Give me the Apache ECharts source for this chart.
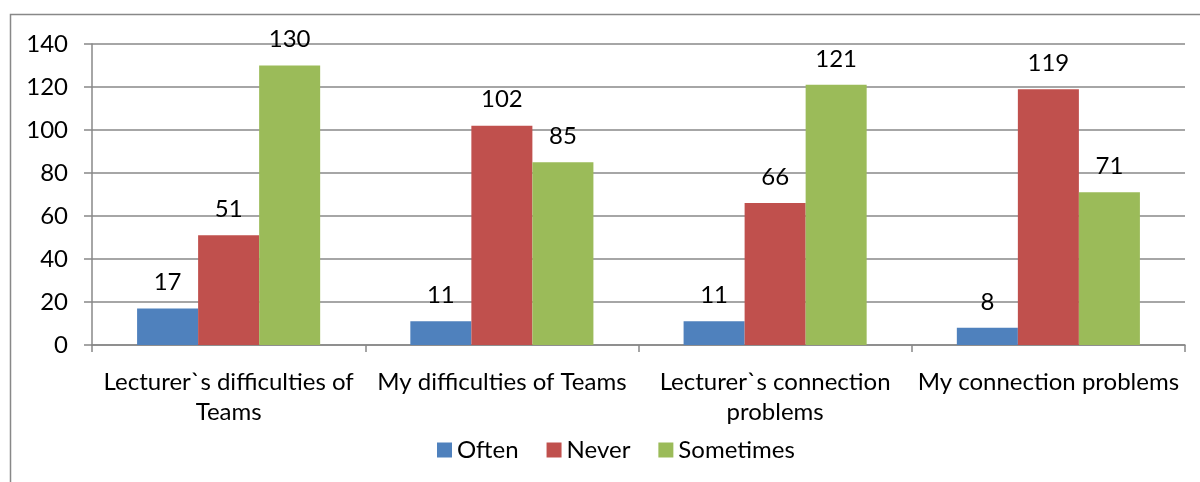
<!DOCTYPE html>
<html><head><meta charset="utf-8">
<script src="https://cdn.jsdelivr.net/npm/echarts@6/dist/echarts.min.js"></script>
<style>html,body{margin:0;padding:0;background:#fff}#c{width:1200px;height:482px}</style>
</head><body><div id="c"></div>
<script>
const categories = ["Lecturer`s difficulties of\nTeams", "My difficulties of Teams", "Lecturer`s connection\nproblems", "My connection problems"];
const often = [17, 11, 11, 8];
const never = [51, 102, 66, 119];
const sometimes = [130, 85, 121, 71];
const yTicks = {min: 0, max: 140, interval: 20};

const FONT = 'Lato';
const FS = 24;
const chart = echarts.init(document.getElementById('c'));
const lbl = {show: true, position: 'top', distance: 14, color: '#000', fontFamily: FONT, fontSize: FS};
function ser(name, data, color) {
  return {name, type: 'bar', data, barGap: '0%', barCategoryGap: '33%',
    itemStyle: {color}, label: lbl};
}
chart.setOption({
  animation: false,
  textStyle: {fontFamily: FONT},
  graphic: [{type: 'rect', shape: {x: 10.5, y: 14.5, width: 1300, height: 600},
    style: {fill: 'none', stroke: '#888', lineWidth: 1.5}, silent: true}],
  grid: {left: 92, right: 15, top: 44, bottom: 137, containLabel: false},
  legend: {bottom: 15, left: 432, itemWidth: 15, itemHeight: 15, itemGap: 28, itemTextGap: 7,
    icon: 'rect', textStyle: {fontFamily: FONT, fontSize: FS, color: '#000'},
    data: ['Often', 'Never', 'Sometimes']},
  xAxis: {type: 'category', data: categories,
    axisLine: {lineStyle: {color: '#888', width: 1.5}},
    axisTick: {show: true, length: 7, lineStyle: {color: '#888', width: 1.5}},
    axisLabel: {color: '#000', fontFamily: FONT, fontSize: FS, lineHeight: 30, margin: 22, interval: 0}},
  yAxis: {type: 'value', min: yTicks.min, max: yTicks.max, interval: yTicks.interval,
    axisLine: {show: true, lineStyle: {color: '#888', width: 1.5}},
    axisTick: {show: true, length: 8, lineStyle: {color: '#888', width: 1.5}},
    splitLine: {lineStyle: {color: '#888', width: 1.5}},
    axisLabel: {color: '#000', fontFamily: FONT, fontSize: FS, margin: 24}},
  series: [ser('Often', often, '#4F81BD'), ser('Never', never, '#C0504D'), ser('Sometimes', sometimes, '#9BBB59')]
});
</script></body></html>
